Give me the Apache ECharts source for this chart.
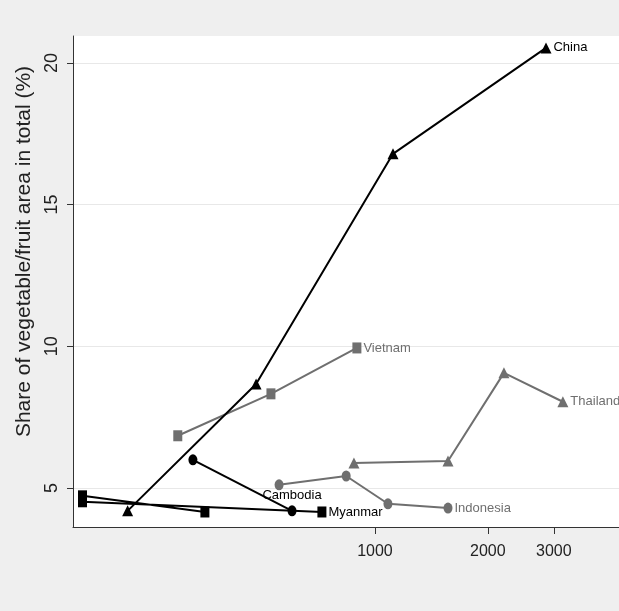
<!DOCTYPE html>
<html>
<head>
<meta charset="utf-8">
<script src="https://cdn.jsdelivr.net/npm/echarts@6/dist/echarts.min.js"></script>
<style>
  html, body { margin: 0; padding: 0; background: #efefef; }
  #chart { width: 619px; height: 611px; }
</style>
</head>
<body>
<div id="chart"></div>
<script>
// GDP per capita (x, log) vs share of vegetable/fruit area (y, %)
var chinaGdp = [219, 482, 1117, 2858];
var chinaShare = [4.19, 8.67, 16.79, 20.53];
var vietnamGdp = [298, 528, 895];
var vietnamShare = [6.84, 8.32, 9.94];
var thailandGdp = [879, 1566, 2208, 3170];
var thailandShare = [5.88, 5.95, 9.06, 8.04];
var indonesiaGdp = [555, 838, 1083, 1566];
var indonesiaShare = [5.11, 5.42, 4.44, 4.29];
var cambodiaGdp = [327, 601];
var cambodiaShare = [5.99, 4.19];
var myanmarGdp = [352, 166, 166, 722];
var myanmarShare = [4.15, 4.72, 4.51, 4.15];

var xTicks = [1000, 2000, 3000];
var yTicks = [5, 10, 15, 20];

var black = '#000000';
var grey = '#6f6f6f';
var font = 'Liberation Sans';

//把x和y拼成点，最后一个点加国家名
function makePoints(xs, ys, name, color, pos) {
    var out = [];
    for (var i = 0; i < xs.length; i++) {
        var p = { value: [xs[i], ys[i]] };
        if (i == xs.length - 1) {
            p.label = {
                show: true,
                formatter: name,
                position: pos || 'right',
                distance: pos == 'top' ? 3 : 2,
                color: color,
                fontSize: 13,
                fontFamily: font
            };
        }
        out.push(p);
    }
    return out;
}

function makeSeries(name, xs, ys, color, symbol, size, pos) {
    return {
        name: name,
        type: 'line',
        data: makePoints(xs, ys, name, color, pos),
        symbol: symbol,
        symbolSize: size,
        showAllSymbol: true,
        lineStyle: { color: color, width: 2 },
        itemStyle: { color: color },
        emphasis: { disabled: true },
        z: color == black ? 3 : 2
    };
}

var chart = echarts.init(document.getElementById('chart'));

chart.setOption({
    backgroundColor: '#efefef',
    animation: false,
    grid: { left: 73, top: 36, right: 0, bottom: 84, show: true, backgroundColor: '#ffffff', borderWidth: 0 },
    xAxis: {
        type: 'log',
        logBase: 10,
        min: 156.6,
        max: 4475,
        axisLine: { show: true, onZero: false, lineStyle: { color: '#333333', width: 1 } },
        axisTick: { show: true, length: 7, lineStyle: { color: '#333333' }, customValues: xTicks },
        axisLabel: {
            fontSize: 16, color: '#222222', margin: 17, fontFamily: font,
            customValues: xTicks,
            formatter: function (v) { return String(Math.round(v)); }
        },
        splitLine: { show: false }
    },
    yAxis: {
        type: 'value',
        min: 3.62,
        max: 20.95,
        name: 'Share of vegetable/fruit area in total (%)',
        nameLocation: 'middle',
        nameGap: 38,
        nameTextStyle: { fontSize: 21, color: '#222222', fontFamily: font, padding: [0, 0, 0, 60] },
        axisLine: { show: true, lineStyle: { color: '#333333', width: 1 } },
        axisTick: { show: true, length: 6, lineStyle: { color: '#333333' }, customValues: yTicks },
        axisLabel: { fontSize: 18, color: '#222222', rotate: 90, margin: 12, fontFamily: font, customValues: yTicks },
        splitLine: { show: true, lineStyle: { color: '#e8e8e8', width: 1 } }
    },
    series: [
        makeSeries('Vietnam', vietnamGdp, vietnamShare, grey, 'rect', [9, 11]),
        makeSeries('Thailand', thailandGdp, thailandShare, grey, 'triangle', [11, 11]),
        makeSeries('Indonesia', indonesiaGdp, indonesiaShare, grey, 'circle', [9, 11]),
        makeSeries('China', chinaGdp, chinaShare, black, 'triangle', [11, 11]),
        makeSeries('Cambodia', cambodiaGdp, cambodiaShare, black, 'circle', [9, 11], 'top'),
        makeSeries('Myanmar', myanmarGdp, myanmarShare, black, 'rect', [9, 11])
    ]
});
</script>
</body>
</html>
